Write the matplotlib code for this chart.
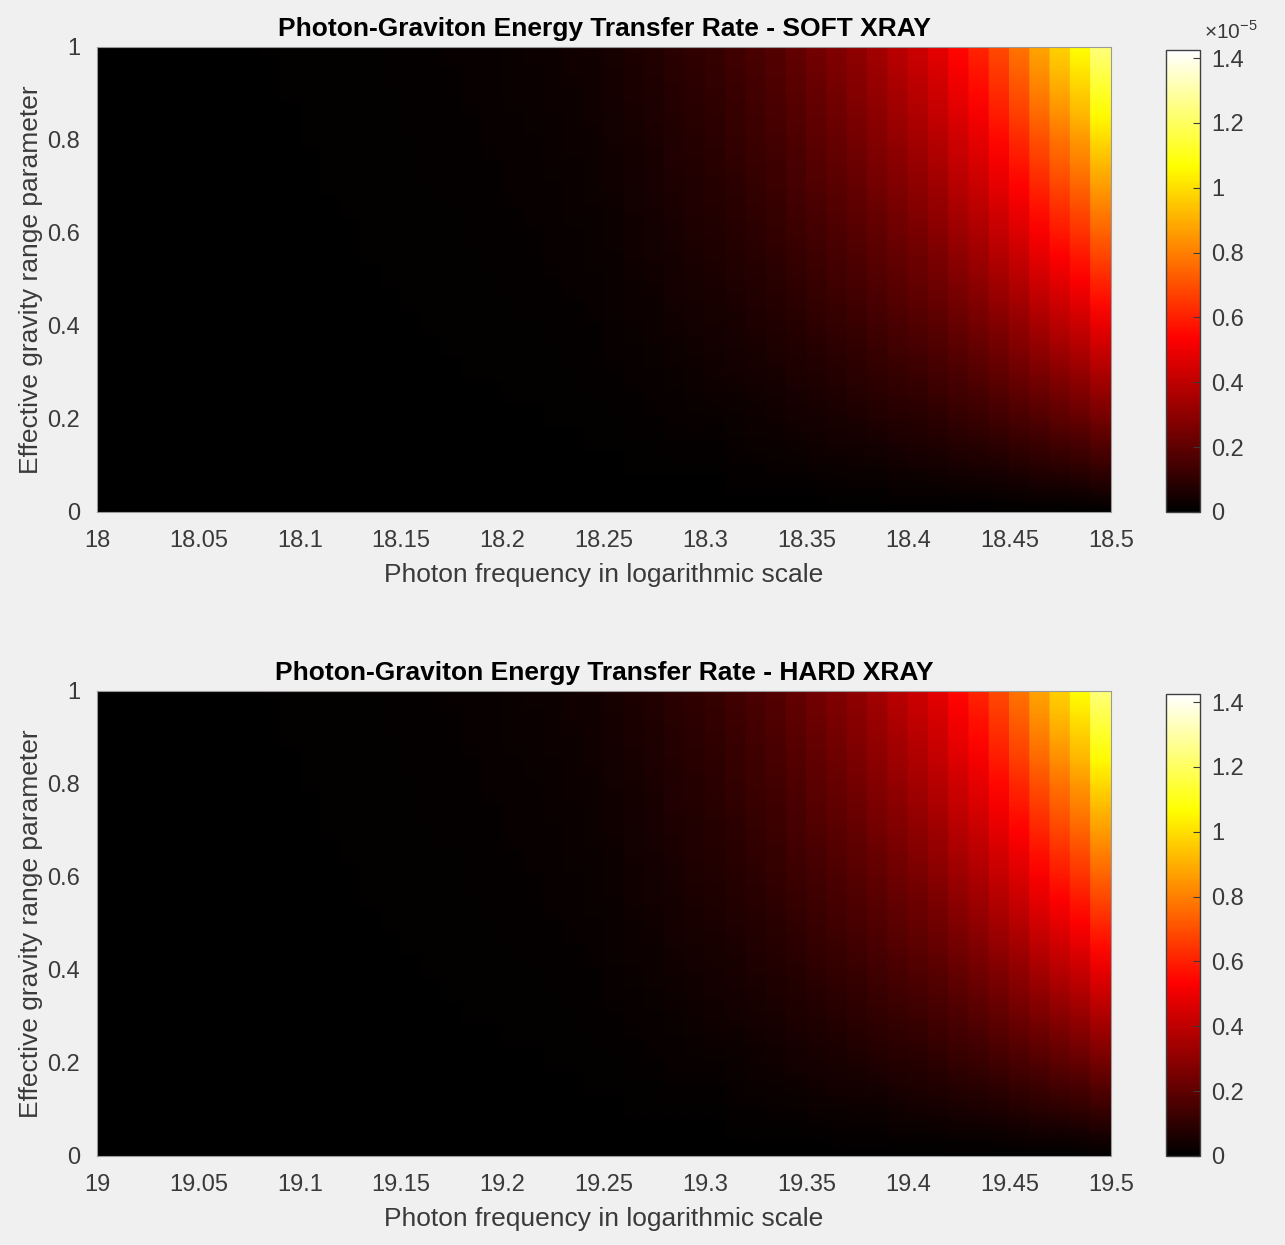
import numpy as np
import matplotlib
matplotlib.use("Agg")
import matplotlib.pyplot as plt
from matplotlib.colors import LinearSegmentedColormap

plt.rcParams['font.family'] = ['Liberation Sans', 'DejaVu Sans']
plt.rcParams['mathtext.fontset'] = 'custom'
plt.rcParams['mathtext.rm'] = 'Liberation Sans'

# photon frequency (log10) ranges of the two bands
soft_range = (18.0, 18.5)
hard_range = (19.0, 19.5)
n_freq_cells = 50

# transfer rate along the top edge, per frequency column (units of 1e-5)
top_row_rate = [
    0.0021, 0.0024, 0.0027, 0.0031, 0.0035, 0.0039, 0.0044, 0.0050, 0.0057, 0.0064,
    0.0073, 0.0082, 0.0093, 0.0105, 0.0119, 0.0134, 0.0152, 0.0172, 0.0195, 0.022,
    0.025, 0.028, 0.032, 0.036, 0.041, 0.051, 0.063, 0.073, 0.090, 0.104,
    0.114, 0.135, 0.157, 0.178, 0.209, 0.241, 0.271, 0.304, 0.345, 0.388,
    0.428, 0.479, 0.546, 0.608, 0.690, 0.775, 0.879, 0.973, 1.069, 1.240,
]

# relative rate vs effective gravity range parameter, at 0, 0.05, ..., 1
range_profile = [
    0.0, 0.045, 0.095, 0.145, 0.195, 0.245, 0.295, 0.345, 0.395, 0.445,
    0.495, 0.545, 0.595, 0.645, 0.695, 0.745, 0.795, 0.85, 0.90, 0.95, 1.0,
]

rate_max = 1.425  # colour axis top (x 1e-5)

xtick_soft = ['18', '18.05', '18.1', '18.15', '18.2', '18.25', '18.3', '18.35', '18.4', '18.45', '18.5']
xtick_hard = ['19', '19.05', '19.1', '19.15', '19.2', '19.25', '19.3', '19.35', '19.4', '19.45', '19.5']
ytick_labels = ['0', '0.2', '0.4', '0.6', '0.8', '1']
cbar_labels = ['0', '0.2', '0.4', '0.6', '0.8', '1', '1.2', '1.4']

bg = '#f0f0f0'
txt = '#3a3a3a'
# MATLAB-like hot map (black -> red -> yellow -> white)
cmap = LinearSegmentedColormap.from_list(
    'mhot', [(0, 'black'), (0.375, 'red'), (0.75, 'yellow'), (1, 'white')], N=256)

fig = plt.figure(figsize=(12.85, 12.45), dpi=100, facecolor=bg)

panels = [
    ('Photon-Graviton Energy Transfer Rate - SOFT XRAY', soft_range, xtick_soft, 0.5888, True),
    ('Photon-Graviton Energy Transfer Rate - HARD XRAY', hard_range, xtick_hard, 0.0715, False),
]

y_pts = np.linspace(0, 1, len(range_profile))
# each column drawn flat in x: two vertices per column with the same value
col_vals = np.repeat(top_row_rate, 2)
rate = np.outer(range_profile, col_vals)

for title, frange, xlabels, bottom, show_exp in panels:
    ax = fig.add_axes([0.0755, bottom, 0.789, 0.3735])
    edges = np.linspace(frange[0], frange[1], n_freq_cells + 1)
    x_pts = np.concatenate([[edges[0]], np.repeat(edges[1:-1], 2), [edges[-1]]])
    mesh = ax.pcolormesh(x_pts, y_pts, rate, cmap=cmap, vmin=0, vmax=rate_max,
                         shading='gouraud')
    ax.set_xlim(frange)
    ax.set_ylim(0, 1)
    ax.set_xticks(np.linspace(frange[0], frange[1], len(xlabels)))
    ax.set_xticklabels(xlabels)
    ax.set_yticks(np.linspace(0, 1, len(ytick_labels)))
    ax.set_yticklabels(ytick_labels)
    # ticks sit under the image, as in the original
    ax.tick_params(direction='in', length=0, colors=txt, labelsize=17)
    ax.tick_params(axis='x', pad=13)
    ax.tick_params(axis='y', pad=12)
    for s in ax.spines.values():
        s.set_color('#9a9a9a')
        s.set_linewidth(0.8)
    ax.set_xlabel('Photon frequency in logarithmic scale', fontsize=19, color=txt, labelpad=8)
    ax.set_ylabel('Effective gravity range parameter', fontsize=19, color=txt, labelpad=3)
    ax.set_title(title, fontsize=19, fontweight='bold', color='black', pad=8)

    cax = fig.add_axes([0.9074, bottom, 0.0265, 0.3711])
    cb = fig.colorbar(mesh, cax=cax)
    cb.set_ticks(np.linspace(0, 1.4, len(cbar_labels)))
    cb.set_ticklabels(cbar_labels)
    cb.outline.set_edgecolor('#404040')
    cb.outline.set_linewidth(1.0)
    cax.tick_params(direction='in', length=5, colors=txt, labelsize=17, pad=8)
    if show_exp:
        fig.text(0.937, 0.966, r'$\times10^{-5}$', fontsize=15, color=txt, ha='left', va='bottom')

fig.savefig('out.png', dpi=100, facecolor=bg)
